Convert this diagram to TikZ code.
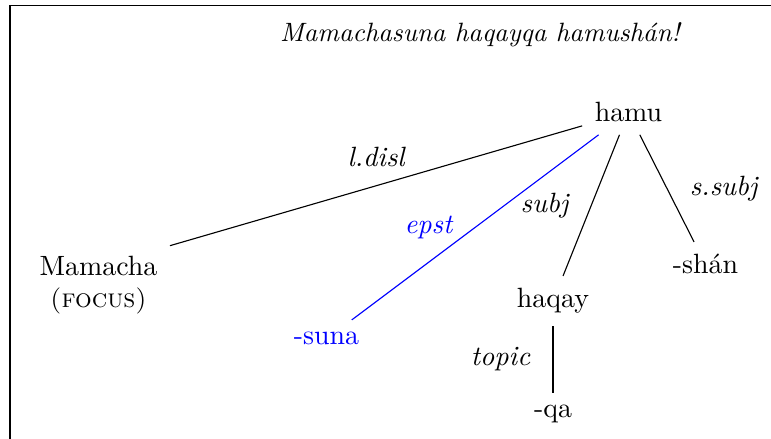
\documentclass[tikz,border=0pt]{standalone}
\usetikzlibrary{positioning}
\tikzset{
  word/.style={inner sep=4.3pt, anchor=base},
  rel/.style={font=\itshape, inner sep=2pt},
}
\begin{document}
\begin{tikzpicture}
  \useasboundingbox (0,0) rectangle (9.715,5.531);
  \draw (0.126,0) |- (9.715,5.456);
  \node[anchor=base,font=\fontsize{9.5}{11}\selectfont\itshape] (title) at (6.048,5.002) {Mamachasuna haqayqa hamushán!};
  \node[word] (hamu) at (7.919,3.994) {hamu};
  \node[word] (mamacha) at (1.241,2.054) {Mamacha};
  \node[anchor=base,font=\fontsize{9.4}{11}\selectfont] (focus) at (1.241,1.65) {\textsc{(focus)}};
  \node[word,text=blue] (suna) at (4.114,1.184) {-suna};
  \node[word] (haqay) at (6.968,1.651) {haqay};
  \node[word] (shan) at (8.889,2.079) {-shán};
  \node[word] (qa) at (6.968,0.265) {-qa};
  \draw (hamu) -- node[rel,above=4.5pt] {l.disl} (mamacha);
  \draw[blue] (hamu) -- node[rel,left=6pt] {epst} (suna);
  \draw (hamu) -- node[rel,left=6pt] {subj} (haqay);
  \draw (hamu) -- node[rel,right=6pt] {s.subj} (shan);
  \draw (haqay) -- node[rel,left=6pt] {topic} (qa);
\end{tikzpicture}
\end{document}
